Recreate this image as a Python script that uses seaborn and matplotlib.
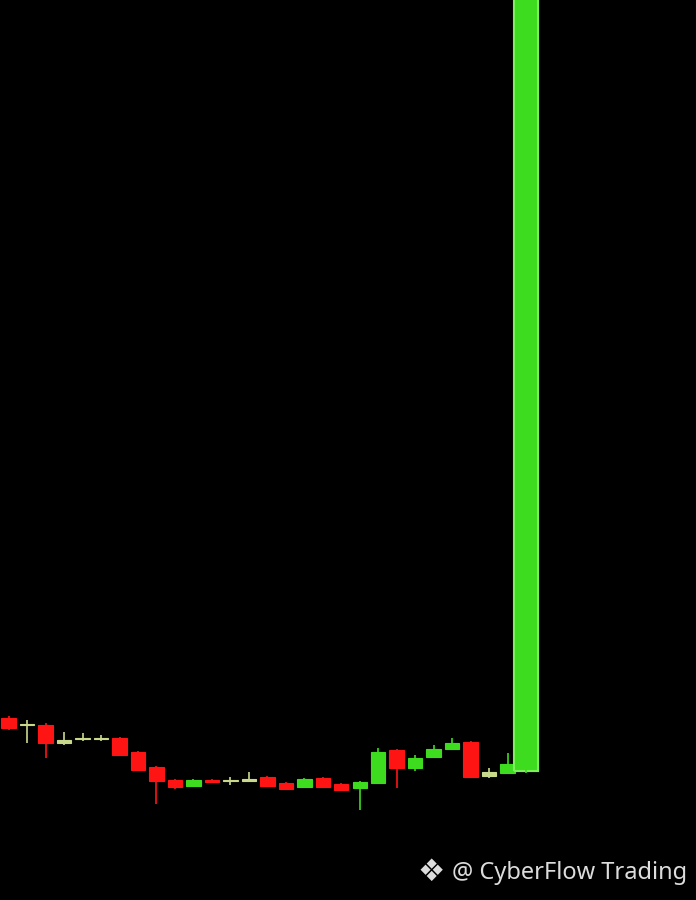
import numpy as np
import pandas as pd
import matplotlib
matplotlib.use("Agg")
import matplotlib.pyplot as plt
import seaborn as sns

# candle values (arbitrary price units)
opens  = [182, 175, 175, 157, 161, 161, 162, 148, 133, 120, 114, 120, 119, 119,
          123, 117, 113, 122, 116, 112, 117, 150, 132, 143, 151, 158, 124, 127, 129]
closes = [172, 175.5, 157, 160, 161.5, 161.5, 145, 130, 119, 113, 120, 118, 119.5, 121,
          114, 111, 121, 113, 110, 118, 148, 132, 142, 151, 157, 123, 128, 136, 920]
highs  = [184, 180, 177, 168, 167, 165, 163, 149, 134, 121, 121, 121, 123, 128,
          124, 118, 122, 123, 117, 119, 152, 151, 145, 155, 162, 159, 132, 147, 920]
lows   = [170, 157, 142, 155, 159, 159, 144, 129, 96, 111, 113, 117, 115, 118,
          113, 110, 112, 112, 109, 90, 116, 112, 129, 142, 150, 122, 122, 126, 127]

RED = "#ff1414"
GREEN = "#3ddc1f"
PALE = "#c9d98c"

df = pd.DataFrame({"open": opens, "close": closes, "high": highs, "low": lows})
df["idx"] = np.arange(len(df))
body = (df["close"] - df["open"]).abs()
df["color"] = np.where(df["close"] < df["open"], RED,
                       np.where(body <= 4.5, PALE, GREEN))
df["width"] = 0.78
df.loc[df.index[-1], "width"] = 1.3

sns.set_style("dark", {"axes.facecolor": "black", "figure.facecolor": "black"})
fig = plt.figure(figsize=(6.96, 9), dpi=100)
ax = fig.add_axes([0, 0, 1, 1])
ax.set_facecolor("black")

ax.vlines(df["idx"], df["low"], df["high"], colors=df["color"], linewidth=1.2)
bottoms = np.minimum(df["open"], df["close"])
heights = np.maximum(body, 1.2)
ax.bar(df["idx"], heights, bottom=bottoms, width=df["width"],
       color=df["color"], edgecolor=df["color"], linewidth=0.8)
# glow edge on the last big candle
last = df.iloc[-1]
ax.bar(last["idx"], body.iloc[-1], bottom=bottoms.iloc[-1], width=last["width"],
       color="none", edgecolor="#7cf05a", linewidth=1.5)

ax.set_xlim(-0.47, 37.2)
ax.set_ylim(0, 900)
ax.axis("off")

fig.text(0.649, 0.023, "@ CyberFlow Trading", color="#dcdcdc", fontsize=17,
         family=["Noto Sans", "DejaVu Sans"], ha="left", va="baseline")
fig.text(0.600, 0.021, "\u2756", color="#dcdcdc", fontsize=22,
         family=["DejaVu Sans"], ha="left", va="baseline")

fig.savefig("out.png", dpi=100, facecolor="black")
